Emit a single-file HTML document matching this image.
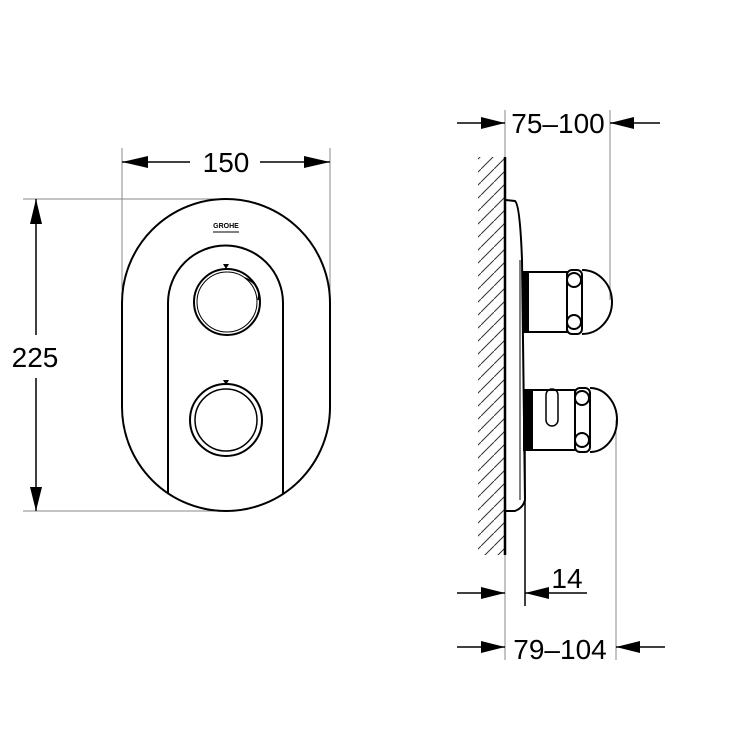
<!DOCTYPE html>
<html><head><style>body{margin:0;background:#fff}svg{display:block}text{font-family:"Liberation Sans",sans-serif;fill:#000}</style></head><body>
<svg width="732" height="730" viewBox="0 0 732 730" xmlns="http://www.w3.org/2000/svg">
<defs>
<pattern id="h" width="13" height="13" patternUnits="userSpaceOnUse"><path d="M-1,14 L14,-1" stroke="#333" stroke-width="1"/></pattern>
</defs>
<g stroke="#888" stroke-width="1" fill="none">
<line x1="122" y1="148" x2="122" y2="290"/>
<line x1="330" y1="148" x2="330" y2="300"/>
<line x1="23" y1="199" x2="230" y2="199"/>
<line x1="23" y1="511" x2="230" y2="511"/>
<line x1="505" y1="110" x2="505" y2="600"/>
<line x1="610" y1="110" x2="610" y2="300"/>
<line x1="616" y1="420" x2="616" y2="660"/>
<line x1="505" y1="600" x2="505" y2="660"/>
</g>
<g stroke="#000" stroke-width="1.5" fill="none">
<line x1="122" y1="162" x2="190" y2="162"/><line x1="260" y1="162" x2="330" y2="162"/>
<line x1="36" y1="199" x2="36" y2="335"/><line x1="36" y1="378" x2="36" y2="511"/>
<line x1="457" y1="123" x2="505" y2="123"/><line x1="610" y1="123" x2="660" y2="123"/>
<line x1="457" y1="593" x2="505" y2="593"/><line x1="525" y1="593" x2="587" y2="593"/>
<line x1="457" y1="647" x2="505" y2="647"/><line x1="616" y1="647" x2="665" y2="647"/>
<line x1="525" y1="450" x2="525" y2="606"/>
</g>
<g fill="#000">
<polygon points="122,162 148,156 148,168"/><polygon points="330,162 304,156 304,168"/>
<polygon points="36,199 30,224 42,224"/><polygon points="36,511 30,487 42,487"/>
<polygon points="505,123 481,117 481,129"/><polygon points="610,123 634,117 634,129"/>
<polygon points="505,593 481,587 481,599"/><polygon points="525,593 549,587 549,599"/>
<polygon points="505,647 481,641 481,653"/><polygon points="616,647 640,641 640,653"/>
</g>
<text x="226" y="172" font-size="28" text-anchor="middle">150</text>
<text x="35" y="367" font-size="28" text-anchor="middle">225</text>
<text x="558" y="133" font-size="28" text-anchor="middle">75–100</text>
<text x="567" y="588" font-size="28" text-anchor="middle">14</text>
<text x="560" y="659" font-size="28" text-anchor="middle">79–104</text>
<g stroke="#000" stroke-width="2" fill="none">
<rect x="122" y="199" width="208" height="312" rx="104" ry="104"/>
<path d="M168,494 L168,303 A57,57 0 0 1 283,303 L283,494"/>
<circle cx="227" cy="302" r="33"/><circle cx="227" cy="302" r="30" stroke-width="1"/>
<path d="M245,278 Q262,285 258,300" stroke-width="1.5"/>
<circle cx="226" cy="420" r="36"/><circle cx="226" cy="420" r="31" stroke-width="1.5"/>
</g>
<text x="226" y="228" font-size="7" text-anchor="middle" font-weight="bold">GROHE</text>
<line x1="213" y1="232" x2="239" y2="232" stroke="#000" stroke-width="1"/>
<polygon points="223,264 229,264 226,269" fill="#000"/>
<polygon points="223,380 229,380 226,385" fill="#000"/>
<rect x="478" y="157" width="27" height="398" fill="url(#h)"/>
<line x1="505" y1="157" x2="505" y2="555" stroke="#000" stroke-width="2.5"/>
<g stroke="#000" stroke-width="2" fill="none">
<path d="M506,200 L515,201 Q520,205 522,260 L525,500 Q523,508 515,511 L506,511"/>
<line x1="520" y1="260" x2="520" y2="500" stroke-width="1"/>
<rect x="523" y="272" width="5" height="60" fill="#000"/>
<rect x="528" y="272" width="39" height="60"/>
<rect x="567" y="270" width="15" height="64" rx="5"/>
<path d="M582,270 A30,32 0 0 1 582,334"/>
<ellipse cx="574" cy="280" rx="7" ry="7"/><ellipse cx="574" cy="322" rx="7" ry="7"/>
<rect x="524" y="390" width="8" height="60" fill="#000"/>
<rect x="532" y="390" width="43" height="60"/>
<path d="M546,395 L546,420 A6,6 0 0 0 558,420 L558,395 A6,6 0 0 0 546,395Z" stroke-width="1.5"/>
<rect x="575" y="388" width="15" height="64" rx="5"/>
<path d="M590,388 A27,32 0 0 1 590,452"/>
<ellipse cx="582" cy="398" rx="7" ry="7"/><ellipse cx="582" cy="440" rx="7" ry="7"/>
</g>
</svg>
</body></html>
